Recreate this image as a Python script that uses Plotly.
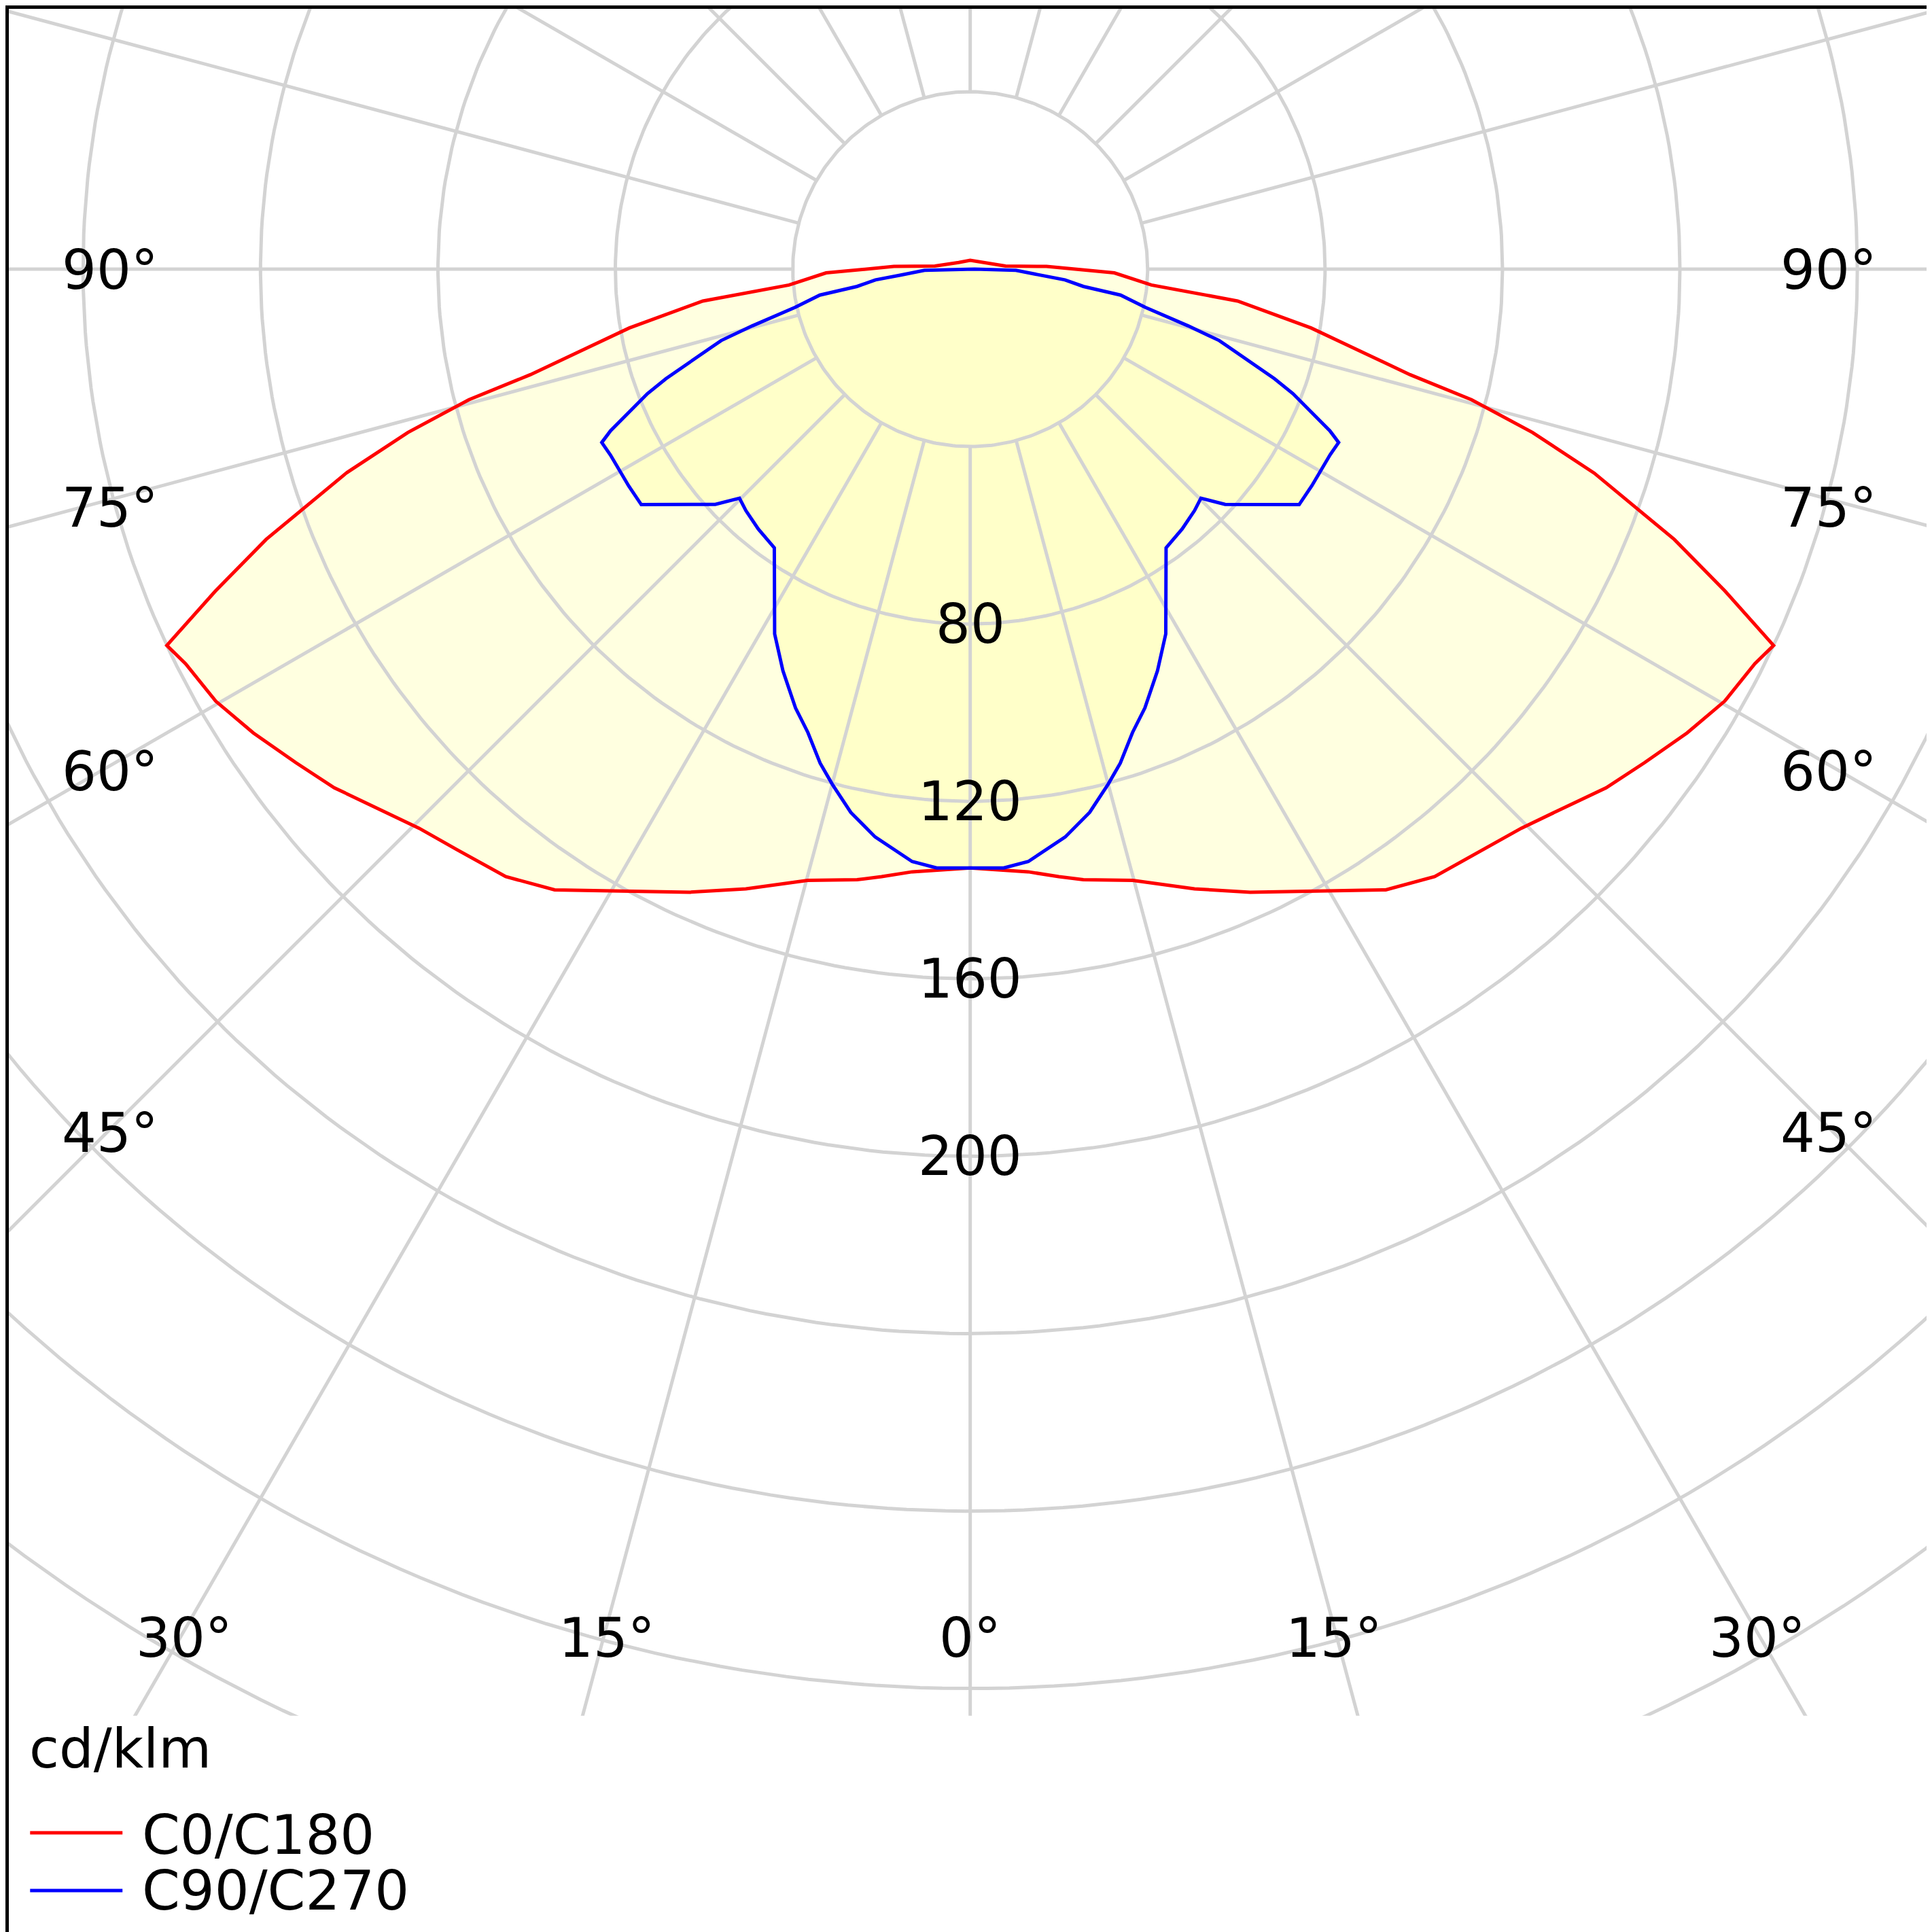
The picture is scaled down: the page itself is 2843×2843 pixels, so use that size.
import numpy as np
import plotly.graph_objects as go

# C0/C180 curve (symmetric): gamma in degrees, intensity in cd/klm
c0_gamma = [0, 5.5, 8.3, 10.5, 14.9, 19.9, 24.2, 33.8, 37.4, 41.5, 44.6, 47.2, 50.8, 53.8,
            57.1, 60.2, 63.3, 64.9, 66.9, 69.0, 71.9, 73.8, 75.4, 76.5, 80.2, 83.2, 85.0,
            88.5, 92.0, 95.0, 120.0, 180.0]
c0_value = [135, 136.5, 138.4, 140, 142.6, 148.6, 154, 168.4, 172.4, 174.7, 177, 180, 185, 188.4,
            192.5, 196, 198, 200, 185, 170, 148, 132, 116.8, 102, 78, 60.7, 41,
            32.5, 17.2, 8, 3, 2]

# C90/C270 curve (symmetric)
c90_gamma = [0, 3.2, 5.6, 9.5, 12.4, 15.0, 16.9, 19.3, 21.7, 25.0, 28.2, 35.1, 39.2, 42.9, 45.2,
             47.3, 54.4, 57.6, 62.7, 64.8, 65.8, 67.3, 68.9, 70.2, 72.6, 74.0, 75.4, 77.7,
             80.2, 81.3, 83.5, 85.0, 88.5, 91.0, 180.0]
c90_value = [135, 135.2, 134.2, 129.8, 125.4, 120.2, 116.4, 110.7, 106.5, 99.9, 93.3, 76.8, 75.6,
             74.3, 73.3, 78.2, 91.2, 91.2, 91.3, 91.8, 88.9, 83.4, 78, 72.9, 63.2, 58.4, 50.8,
             40.4, 34.4, 25.8, 21.5, 15.9, 10.3, 1, 0]

ring_values = [40, 80, 120, 160, 200, 240, 280, 320, 360, 400, 440, 480, 520]
ring_labels = [80, 120, 160, 200]
spoke_angles = list(range(0, 360, 15))

PX = 3.6  # display px per cd/klm
CX, CY = 783, 214
GRID = "#d3d3d3"


def closed_xy(gamma, value):
    g = np.radians(gamma)
    v = np.array(value)
    xr, yr = v * np.sin(g), -v * np.cos(g)
    x = np.concatenate([xr, -xr[::-1]])
    y = np.concatenate([yr, yr[::-1]])
    return x, y


fig = go.Figure()
x0, y0 = closed_xy(c0_gamma, c0_value)
x9, y9 = closed_xy(c90_gamma, c90_value)

for x, y in [(x0, y0), (x9, y9)]:
    fig.add_trace(go.Scatter(x=x, y=y, mode="lines", fill="toself", line=dict(width=0),
                             fillcolor="rgba(255,255,130,0.25)", hoverinfo="skip"))

# grid
t = np.linspace(0, 2 * np.pi, 400)
for r in ring_values:
    fig.add_trace(go.Scatter(x=r * np.cos(t), y=r * np.sin(t), mode="lines",
                             line=dict(color=GRID, width=5), hoverinfo="skip"))
for a in spoke_angles:
    ar = np.radians(a)
    fig.add_trace(go.Scatter(x=[40 * np.sin(ar), 700 * np.sin(ar)],
                             y=[-40 * np.cos(ar), -700 * np.cos(ar)], mode="lines",
                             line=dict(color=GRID, width=5), hoverinfo="skip"))

fig.add_trace(go.Scatter(x=x0, y=y0, mode="lines", line=dict(color="#ff0000", width=5)))
fig.add_trace(go.Scatter(x=x9, y=y9, mode="lines", line=dict(color="#0000ff", width=5)))

FONT = dict(family="DejaVu Sans", size=80, color="black")
ann = []
for v in ring_labels:
    ann.append(dict(x=0, y=-v, xref="x", yref="y", text=str(v), showarrow=False, font=FONT,
                    xanchor="center", yanchor="middle"))


def pann(px, py, text, xanchor="center"):
    ann.append(dict(x=px / 1568, y=1 - py / 1568, xref="paper", yref="paper", text=text,
                    showarrow=False, font=FONT, xanchor=xanchor, yanchor="middle"))


for py, txt in [(215, "90°"), (408, "75°"), (622, "60°"), (915, "45°")]:
    pann(85, py, txt)
    pann(1480, py, txt)
for px, txt in [(145, "30°"), (488, "15°"), (783, "0°"), (1078, "15°"), (1422, "30°")]:
    pann(px, 1325, txt)
pann(18, 1415, "cd/klm", "left")
pann(110, 1485, "C0/C180", "left")
pann(110, 1530, "C90/C270", "left")

shapes = [
    dict(type="rect", xref="paper", yref="paper", x0=0, x1=1, y0=0, y1=1 - 1388 / 1568,
         fillcolor="white", line=dict(width=0), layer="above"),
    dict(type="line", xref="paper", yref="paper", x0=20 / 1568, x1=95 / 1568,
         y0=1 - 1483 / 1568, y1=1 - 1483 / 1568, line=dict(color="#ff0000", width=5)),
    dict(type="line", xref="paper", yref="paper", x0=20 / 1568, x1=95 / 1568,
         y0=1 - 1530 / 1568, y1=1 - 1530 / 1568, line=dict(color="#0000ff", width=5)),
    dict(type="rect", xref="paper", yref="paper", x0=0, x1=1, y0=0, y1=1,
         line=dict(color="black", width=10), layer="above"),
]

fig.update_layout(
    width=2843, height=2843, margin=dict(l=0, r=0, t=0, b=0),
    paper_bgcolor="white", plot_bgcolor="white", showlegend=False,
    xaxis=dict(range=[-CX / PX, (1568 - CX) / PX], visible=False, fixedrange=True),
    yaxis=dict(range=[-(1568 - CY) / PX, CY / PX], visible=False, fixedrange=True),
    annotations=ann, shapes=shapes,
)

fig.write_html("out.html")
